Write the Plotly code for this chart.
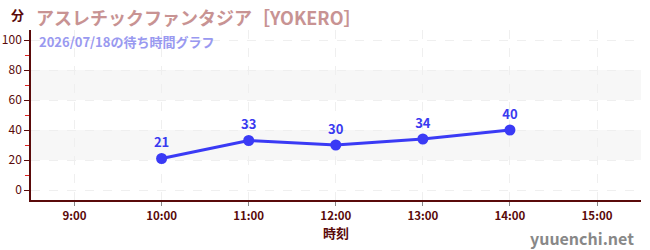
import plotly.graph_objects as go

times = ["10:00", "11:00", "12:00", "13:00", "14:00"]
waits = [21, 33, 30, 34, 40]
tick_labels = ["9:00", "10:00", "11:00", "12:00", "13:00", "14:00", "15:00"]
title_text = "アスレチックファンタジア［YOKERO］"
subtitle_text = "2026/07/18の待ち時間グラフ"

def hrs(s):
    h, m = s.split(":")
    return int(h) + int(m) / 60

x = [hrs(t) for t in times]
tickvals = [hrs(t) for t in tick_labels]

FONT = "Noto Sans CJK JP"
AX = "#5a0a0a"

fig = go.Figure()
fig.add_trace(go.Scatter(
    x=x, y=waits, mode="lines+markers+text",
    text=[str(v) for v in waits], textposition="top center",
    textfont=dict(family=FONT, size=13, color="#3a3af0", weight="bold"),
    line=dict(color="#3a3af5", width=3),
    marker=dict(color="#3a3af5", size=11),
    hoverinfo="skip", cliponaxis=False,
))

for y0, y1 in [(20, 40), (60, 80)]:
    fig.add_shape(type="rect", xref="paper", yref="y", x0=0, x1=1, y0=y0, y1=y1,
                  fillcolor="#f7f7f7", line=dict(width=0), layer="below")

fig.update_layout(
    width=650, height=250,
    margin=dict(l=31, r=9, t=30, b=50, autoexpand=False),
    paper_bgcolor="white", plot_bgcolor="white",
    showlegend=False,
    font=dict(family=FONT, color=AX),
    xaxis=dict(
        range=[8.5, 15.505], tickvals=tickvals, ticktext=tick_labels,
        showgrid=True, gridcolor="#efefef", griddash="dash", gridwidth=1,
        showline=True, linecolor=AX, linewidth=1.5,
        ticks="outside", ticklen=4, tickcolor="#888",
        tickfont=dict(family=FONT, size=11.5, color=AX, weight="bold"),
        zeroline=False, automargin=False,
        title=dict(text="時刻", font=dict(family=FONT, size=13, color=AX, weight="bold"), standoff=6),
    ),
    yaxis=dict(
        range=[-6.67, 106.67], tickvals=[0, 20, 40, 60, 80, 100],
        showgrid=True, gridcolor="#efefef", griddash="dash", gridwidth=1,
        showline=True, linecolor=AX, linewidth=1.5,
        ticks="outside", ticklen=5, tickcolor=AX,
        tickfont=dict(family=FONT, size=12, color=AX),
        zeroline=False, automargin=False,
        minor=dict(tickvals=[10, 30, 50, 70, 90], ticks="outside", ticklen=4, tickcolor="#dd2222", showgrid=False),
    ),
    annotations=[
        dict(text="分", xref="paper", yref="paper", x=-0.022, y=1.0, xanchor="center", yanchor="bottom",
             yshift=4, showarrow=False, font=dict(family=FONT, size=13, color=AX, weight="bold")),
        dict(text=title_text, xref="paper", yref="paper", x=0.0, y=1.0, xanchor="left", yanchor="bottom",
             xshift=3, yshift=-2, showarrow=False, font=dict(family=FONT, size=18, color="#c89393", weight="bold")),
        dict(text=subtitle_text, xref="paper", yref="paper", x=0.0, y=1.0, xanchor="left", yanchor="top",
             xshift=6, yshift=0, showarrow=False, font=dict(family=FONT, size=13, color="#9999f0", weight="bold")),
        dict(text="yuuenchi.net", xref="paper", yref="paper", x=1.0, y=0, xanchor="right", yanchor="top",
             xshift=-5, yshift=-24, showarrow=False, font=dict(family=FONT, size=16, color="#888888", weight="bold")),
    ],
)

fig.write_html("out.html")
